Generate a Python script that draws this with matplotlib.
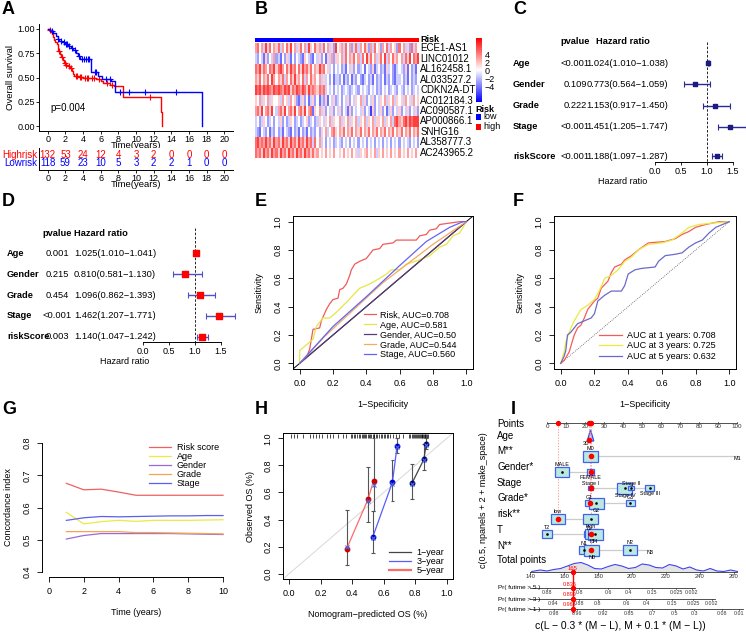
import numpy as np
import matplotlib
matplotlib.use('Agg')
import matplotlib.pyplot as plt
from matplotlib.colors import LinearSegmentedColormap, ListedColormap
from matplotlib.patches import Rectangle
from matplotlib.lines import Line2D

plt.rcParams['font.family'] = ['Liberation Sans', 'DejaVu Sans']
plt.rcParams['axes.linewidth'] = 0.7
plt.rcParams['xtick.major.width'] = 0.6
plt.rcParams['ytick.major.width'] = 0.6

# ── A: Kaplan-Meier ────────────────────────────────────────────────────────
km_high_t = [0, 0.2, 0.35, 0.5, 0.6, 0.7, 0.8, 1.0, 1.1, 1.2, 1.4, 1.5, 1.7, 1.8, 2.0, 2.3, 2.5, 2.7, 2.8, 3.0,
             3.5, 4.0, 4.8, 5.5, 6.0, 6.3, 7.0, 7.5, 8.5, 12.8, 13.0]
km_high_s = [1.0, 0.99, 0.97, 0.95, 0.92, 0.89, 0.87, 0.84, 0.80, 0.77, 0.74, 0.71, 0.68, 0.65, 0.63, 0.62, 0.60,
             0.57, 0.54, 0.52, 0.51, 0.50, 0.49, 0.48, 0.46, 0.44, 0.42, 0.41, 0.30, 0.15, 0.0]
km_low_t = [0, 0.3, 0.6, 0.9, 1.1, 1.3, 1.6, 2.0, 2.3, 2.6, 2.9, 3.2, 3.4, 3.6, 4.9, 5.7, 6.2, 7.2, 7.6, 17.5]
km_low_s = [1.0, 0.98, 0.96, 0.93, 0.90, 0.88, 0.86, 0.84, 0.82, 0.80, 0.78, 0.75, 0.72, 0.69, 0.56, 0.52, 0.48,
            0.46, 0.35, 0.0]
cens_high = [0.3, 1.25, 1.6, 1.9, 2.1, 2.4, 2.6, 3.2, 3.3, 3.6, 3.8, 4.2, 4.4, 4.6, 5.0, 5.2, 5.8, 6.7, 7.3, 11.6]
cens_low = [0.45, 1.2, 1.45, 1.8, 2.1, 2.2, 2.45, 2.75, 3.1, 3.5, 3.9, 4.1, 4.3, 4.5, 4.7, 5.3, 5.5, 6.6, 7.1,
            8.2, 9.2, 11.0, 14.5]
risk_years = list(range(0, 21, 2))
n_high = [132, 53, 24, 12, 4, 3, 2, 0, 0, 0, 0]
n_low = [118, 59, 23, 10, 5, 3, 2, 2, 1, 0, 0]

# ── B: heatmap (digit 4 = 0, each step = 1.5 units) ───────────────────────
genes = ['ECE1-AS1', 'LINC01012', 'AL162458.1', 'AL033527.2', 'CDKN2A-DT', 'AC012184.3',
         'AC090587.1', 'AP000866.1', 'SNHG16', 'AL358777.3', 'AC243965.2']
heat_rows = [
    "6746385746 5736475846 3574638547 5637463528 4563746257 3647526374 5264736452 7463527364",
    "3243152436 2314253142 4321543214 3524153625 5463746574 6374857463 5748364756 4637584768",
    "7685764768 5786475867 4758675746 5867453424 3423143524 2341432513 4231534213 4325142314",
    "6574657486 4657364758 5647364756 4635342413 3241324132 4213423142 3241324213 3423142324",
    "8786878768 7876878576 8768758676 5767343424 3423432343 2434324342 3243423432 4324342343",
    "5463546354 4536453645 2135241352 4132514352 3424352435 4635243524 3546354635 4536453645",
    "6758467584 3675846758 4675846715 4635243524 3524315243 4352430524 3524135243 5243524352",
    "3423542342 4352423542 3423452342 3543546354 4635463546 3546354635 5463546378 6578687888",
    "3214324132 4231432142 3142314232 4254634675 4657465746 5746574657 4657465746 5746574657",
    "7867686758 6758675867 5867586737 4634243423 4324342434 2434243424 3424342434 2434324342",
    "7675867586 7586758675 8675867575 6454645464 4546454645 3545645463 5464546454 6454645464",
]
n_low_cols = 38

# ── C / D: forest plots ────────────────────────────────────────────────────
vars_ = ['Age', 'Gender', 'Grade', 'Stage', 'riskScore']
uni_p = ['<0.001', '0.109', '0.222', '<0.001', '<0.001']
uni_hr = [1.024, 0.773, 1.153, 1.451, 1.188]
uni_lo = [1.010, 0.564, 0.917, 1.205, 1.097]
uni_hi = [1.038, 1.059, 1.450, 1.747, 1.287]
multi_p = ['0.001', '0.215', '0.454', '<0.001', '0.003']
multi_hr = [1.025, 0.810, 1.096, 1.462, 1.140]
multi_lo = [1.010, 0.581, 0.862, 1.207, 1.047]
multi_hi = [1.041, 1.130, 1.393, 1.771, 1.242]

# ── E: ROC of clinical variables ───────────────────────────────────────────
roc_risk_x = [0, 0.04, 0.06, 0.08, 0.12, 0.13, 0.16, 0.18, 0.2, 0.23, 0.24, 0.26, 0.28, 0.30, 0.31, 0.33, 0.36,
              0.38, 0.40, 0.42, 0.44, 0.48, 0.5, 0.56, 0.58, 0.7, 0.72, 0.76, 0.78, 0.82, 0.84, 0.9, 0.96, 1.0]
roc_risk_y = [0, 0.04, 0.10, 0.24, 0.25, 0.30, 0.38, 0.42, 0.45, 0.46, 0.52, 0.53, 0.56, 0.62, 0.66, 0.70, 0.72,
              0.73, 0.74, 0.77, 0.80, 0.81, 0.84, 0.85, 0.87, 0.87, 0.90, 0.91, 0.94, 0.95, 0.98, 0.99, 1.0, 1.0]
roc_age_x = [0, 0, 0.03, 0.08, 0.1, 0.14, 0.18, 0.22, 0.28, 0.32, 0.36, 0.42, 0.48, 0.52, 0.55, 0.6, 0.64, 0.72,
             0.78, 0.84, 0.88, 0.92, 0.96, 1.0]
roc_age_y = [0, 0.09, 0.12, 0.17, 0.26, 0.32, 0.32, 0.36, 0.43, 0.48, 0.53, 0.56, 0.60, 0.63, 0.66, 0.66, 0.70,
             0.73, 0.76, 0.82, 0.84, 0.90, 0.92, 1.0]
roc_gender_x = [0, 0.5, 1.0]
roc_gender_y = [0, 0.5, 1.0]
roc_grade_x = [0, 0.15, 0.5, 0.8, 1.0]
roc_grade_y = [0, 0.19, 0.57, 0.84, 1.0]
roc_stage_x = [0, 0.2, 0.4, 0.6, 0.76, 0.9, 0.98, 1.0]
roc_stage_y = [0, 0.26, 0.47, 0.69, 0.86, 0.96, 1.0, 1.0]

# ── F: time-dependent ROC ──────────────────────────────────────────────────
t1_x = [0, 0.02, 0.05, 0.08, 0.1, 0.12, 0.14, 0.16, 0.2, 0.22, 0.24, 0.28, 0.3, 0.32, 0.36, 0.38, 0.42, 0.46,
        0.52, 0.62, 0.68, 0.72, 0.76, 0.8, 0.86, 0.94, 1.0]
t1_y = [0, 0.02, 0.08, 0.20, 0.25, 0.27, 0.32, 0.38, 0.44, 0.46, 0.53, 0.58, 0.64, 0.68, 0.70, 0.73, 0.76, 0.80,
        0.85, 0.86, 0.88, 0.91, 0.93, 0.96, 0.98, 1.0, 1.0]
t3_x = [0, 0.02, 0.03, 0.06, 0.08, 0.12, 0.16, 0.2, 0.24, 0.26, 0.3, 0.34, 0.38, 0.42, 0.46, 0.52, 0.6, 0.66,
        0.72, 0.76, 0.82, 0.9, 1.0]
t3_y = [0, 0.08, 0.15, 0.25, 0.30, 0.38, 0.41, 0.45, 0.54, 0.60, 0.62, 0.66, 0.72, 0.75, 0.80, 0.84, 0.85, 0.87,
        0.92, 0.96, 0.98, 0.99, 1.0]
t5_x = [0, 0.02, 0.03, 0.04, 0.06, 0.1, 0.14, 0.18, 0.2, 0.22, 0.26, 0.3, 0.36, 0.38, 0.4, 0.44, 0.48, 0.56,
        0.58, 0.62, 0.68, 0.72, 0.76, 0.8, 0.84, 0.88, 0.92, 0.98, 1.0]
t5_y = [0, 0.05, 0.09, 0.20, 0.22, 0.28, 0.30, 0.32, 0.35, 0.44, 0.48, 0.51, 0.51, 0.55, 0.63, 0.66, 0.67, 0.68,
        0.72, 0.76, 0.77, 0.78, 0.82, 0.85, 0.87, 0.92, 0.96, 0.99, 1.0]

# ── G: C-index over time ───────────────────────────────────────────────────
cidx_years = [1, 2, 3, 4, 5, 6, 7, 8, 9, 10]
cidx_risk = [0.675, 0.655, 0.657, 0.648, 0.638, 0.638, 0.638, 0.638, 0.638, 0.638]
cidx_age = [0.585, 0.549, 0.556, 0.560, 0.557, 0.560, 0.560, 0.560, 0.561, 0.562]
cidx_gender = [0.502, 0.513, 0.519, 0.519, 0.519, 0.519, 0.519, 0.518, 0.517, 0.516]
cidx_grade = [0.525, 0.525, 0.525, 0.525, 0.522, 0.522, 0.521, 0.520, 0.519, 0.518]
cidx_stage = [0.560, 0.568, 0.572, 0.571, 0.572, 0.573, 0.574, 0.574, 0.575, 0.575]

# ── H: calibration ─────────────────────────────────────────────────────────
cal1_x = [0.78, 0.855, 0.87]
cal1_y = [0.67, 0.845, 0.96]
cal1_lo = [0.555, 0.765, 0.92]
cal1_hi = [0.81, 0.955, 1.0]
cal3_x = [0.53, 0.655, 0.685]
cal3_y = [0.27, 0.675, 0.945]
cal3_lo = [0.155, 0.54, 0.89]
cal3_hi = [0.465, 0.84, 1.0]
cal5_x = [0.365, 0.50, 0.535]
cal5_y = [0.185, 0.55, 0.685]
cal5_lo = [0.065, 0.38, 0.465]
cal5_hi = [0.47, 0.79, 1.0]
cal_bc1 = [0.665, 0.84, 0.95]
cal_bc3 = [0.265, 0.665, 0.935]
cal_bc5 = [0.20, 0.535, 0.655]
cal_rug = [0.01, 0.03, 0.05, 0.09, 0.13, 0.15, 0.17, 0.19, 0.21, 0.24, 0.26, 0.28, 0.31, 0.34, 0.36, 0.39, 0.40,
           0.41, 0.42, 0.43, 0.44, 0.45, 0.46, 0.47, 0.475, 0.48, 0.49, 0.50, 0.505, 0.51, 0.52, 0.53, 0.535, 0.54,
           0.55, 0.56, 0.57, 0.58, 0.59, 0.60, 0.61, 0.62, 0.63, 0.64, 0.66, 0.68, 0.70, 0.72, 0.76, 0.77, 0.78,
           0.785, 0.79, 0.80, 0.805, 0.81, 0.82, 0.825, 0.83, 0.835, 0.84, 0.845, 0.85, 0.855, 0.86, 0.865, 0.87,
           0.875, 0.88]

# ── I: nomogram ────────────────────────────────────────────────────────────
nomo_rows = ['Points', 'Age', 'M**', 'Gender*', 'Stage', 'Grade*', 'risk**', 'T', 'N**', 'Total points']
# per variable: (label, points, relative size, label above?)
nomo_levels = {
    'M**': [('M0', 22.9, 1.0, True), ('M1', 100.0, 0.0, False)],
    'Gender*': [('MALE', 8.0, 0.9, True), ('FEMALE', 22.9, 0.5, False)],
    'Stage': [('Stage I', 22.9, 0.3, True), ('Stage IV', 41.0, 1.0, False), ('Stage II', 44.2, 0.45, True),
              ('Stage III', 54.0, 0.6, False)],
    'Grade*': [('G1', 22.4, 0.55, True), ('G2', 26.0, 1.0, False), ('G3', 43.7, 0.6, True)],
    'risk**': [('low', 5.8, 0.95, True), ('high', 22.9, 0.95, False)],
    'T': [('T2', 0.0, 0.7, True), ('T1', 22.0, 0.6, True), ('T3', 23.5, 0.9, False), ('T4', 25.5, 1.0, False)],
    'N**': [('N1', 19.5, 0.7, True), ('N0', 23.5, 1.0, False), ('N2', 43.7, 0.9, True), ('N3', 54.0, 0.0, False)],
}
sel_points = {'Age': 21.9, 'M**': 22.9, 'Gender*': 22.9, 'Stage': 22.9, 'Grade*': 22.4, 'risk**': 5.8,
              'T': 22.9, 'N**': 22.9}
sel_total = 165
total_ticks = [140, 160, 180, 200, 220, 240, 260]
dens_T = [141, 146, 150, 154, 158, 162, 166, 170, 174, 178, 182, 186, 190, 194, 198, 202, 206, 210, 214, 218,
          222, 226, 230, 234, 238, 242, 246, 250, 254, 258, 262]
dens_h = [0.05, 0.2, 0.1, 0.25, 0.35, 0.6, 0.85, 0.95, 0.7, 0.35, 0.3, 0.55, 0.75, 0.6, 0.35, 0.45, 0.8, 0.7,
          0.45, 0.4, 0.75, 0.6, 0.3, 0.5, 0.2, 0.1, 0.35, 0.1, 0.05, 0.2, 0.05]
pr_names = ['Pr( futime > 5 )', 'Pr( futime > 3 )', 'Pr( futime > 1 )']
pr_sel = ['0.836', '0.899', '0.966']
pr_labels = [['0.88', '0.8', '0.6', '0.4', '0.15', '0.025', '0.002'],
             ['0.94', '0.88', '0.8', '0.6', '0.4', '0.15', '0.025', '0.002'],
             ['0.98', '0.96', '0.92', '0.85', '0.7', '0.5', '0.3', '0.08', '0.01']]
pr_at = [[150, 169, 186, 198, 212, 226, 235],
         [153.5, 168.8, 180, 196.5, 208.2, 223.5, 235.9, 247],
         [154, 167.6, 183, 198, 212, 225, 236.5, 253, 263]]
pr_end = [237, 249, 265]

# ══════════════════════════════════════════════════════════════════════════
W, H = 746, 633
fig = plt.figure(figsize=(W / 100, H / 100), dpi=100, facecolor='white')


def px_axes(x0, y0, x1, y1):
    return fig.add_axes([x0 / W, 1 - y1 / H, (x1 - x0) / W, (y1 - y0) / H])


for letter, (lx, ly) in {'A': (2, 9), 'B': (255, 9), 'C': (513, 9), 'D': (2, 202), 'E': (255, 202),
                         'F': (513, 202), 'G': (2, 410), 'H': (255, 410), 'I': (511, 410)}.items():
    fig.text(lx / W, 1 - ly / H, letter, fontsize=13, fontweight='bold', ha='left', va='center')

# ── A ──
axA = px_axes(39, 24, 233, 131)
for t, s, c, col in [(km_high_t, km_high_s, cens_high, 'red'), (km_low_t, km_low_s, cens_low, 'blue')]:
    axA.step(t, s, where='post', color=col, lw=1.0)
    idx = np.searchsorted(t, c, side='right') - 1
    axA.plot(c, np.array(s)[idx], ls='none', marker='+', ms=4, mew=0.8, color=col)
axA.text(0.3, 0.19, 'p=0.004', fontsize=7, ha='left', va='center')
axA.set_xlim(-1, 21)
axA.set_ylim(-0.05, 1.05)
axA.set_xticks(risk_years)
axA.set_yticks([0, 0.25, 0.5, 0.75, 1.0])
axA.set_yticklabels(['0.00', '0.25', '0.50', '0.75', '1.00'])
axA.tick_params(labelsize=6.5, length=2.5, pad=0.5)
axA.set_xlabel('Time(years)', fontsize=6.8, labelpad=-2)
axA.set_ylabel('Overall survival', fontsize=6.8, labelpad=2)
axA.spines[['top', 'right']].set_visible(False)

axAt = px_axes(39, 148, 233, 170)
axAt.set_xlim(-1, 21)
axAt.set_ylim(0, 2)
for t, a, b in zip(risk_years, n_high, n_low):
    axAt.text(t, 1.4, str(a), color='red', fontsize=7, ha='center', va='center')
    axAt.text(t, 0.6, str(b), color='blue', fontsize=7, ha='center', va='center')
axAt.text(-0.01, 1.4, 'Highrisk', color='red', fontsize=7, ha='right', va='center',
          transform=axAt.get_yaxis_transform())
axAt.text(-0.01, 0.6, 'Lowrisk', color='blue', fontsize=7, ha='right', va='center',
          transform=axAt.get_yaxis_transform())
axAt.set_xticks(risk_years)
axAt.set_yticks([])
axAt.tick_params(labelsize=6.5, length=2.5, pad=0.5)
axAt.set_xlabel('Time(years)', fontsize=6.8, labelpad=-2)
axAt.spines[['top', 'right']].set_visible(False)

# ── B ──
mat = np.array([[int(ch) - 4 for ch in r.replace(' ', '')] for r in heat_rows]) * 1.5
bwr = LinearSegmentedColormap.from_list('bwr_r', ['#0000FF', '#FFFFFF', '#FF0000'])
axB = px_axes(255, 43, 418, 158)
axB.imshow(mat, aspect='auto', cmap=bwr, vmin=-8, vmax=8, interpolation='nearest')
axB.set_xticks([])
axB.set_yticks([])
for sp in axB.spines.values():
    sp.set_visible(False)
for i, g in enumerate(genes):
    axB.text(1.015, 1 - (i + 0.5) / len(genes), g, transform=axB.transAxes, fontsize=7, va='center', ha='left')

axBr = px_axes(255, 37.5, 418, 42)
ncol = mat.shape[1]
grp = np.array([[0] * n_low_cols + [1] * (ncol - n_low_cols)])
axBr.imshow(grp, aspect='auto', cmap=ListedColormap(['#0000FF', '#FF0000']), interpolation='nearest')
axBr.axis('off')
axBr.text(1.015, 0.5, 'Risk', transform=axBr.transAxes, fontsize=6.5, fontweight='bold', va='center', ha='left')

axCB = px_axes(476, 38, 482, 102)
grad = np.linspace(8, -8, 200)[:, None]
axCB.imshow(grad, aspect='auto', cmap=bwr, vmin=-8, vmax=8, extent=[0, 1, -8, 8])
axCB.set_xticks([])
axCB.yaxis.tick_right()
axCB.set_yticks([4, 2, 0, -2, -4])
axCB.set_yticklabels(['4', '2', '0', '\u22122', '\u22124'])
axCB.tick_params(axis='y', length=0, pad=2, labelsize=6.5)
for sp in axCB.spines.values():
    sp.set_visible(False)

fig.text(475 / W, 1 - 109 / H, 'Risk', fontsize=6.5, fontweight='bold', va='center', ha='left')
for yy, col, lab in [(116.5, '#0000FF', 'low'), (126.5, '#FF0000', 'high')]:
    fig.patches.append(Rectangle((476 / W, 1 - (yy + 3) / H), 5 / W, 5 / H, transform=fig.transFigure,
                                 facecolor=col, edgecolor='none'))
    fig.text(483 / W, 1 - yy / H, lab, fontsize=6.5, va='center', ha='left')


# ── C / D forest plots ──
def forest_axis(ax):
    for sp in ['top', 'right', 'left']:
        ax.spines[sp].set_visible(False)
    ax.spines['bottom'].set_bounds(0, 1.5)
    ax.set_yticks([])
    ax.set_xticks([0, 0.5, 1.0, 1.5])
    ax.set_xticklabels(['0.0', '0.5', '1.0', '1.5'])
    ax.tick_params(axis='x', labelsize=6.5, length=2.5, pad=1)
    ax.set_xlabel('Hazard ratio', fontsize=6.5, labelpad=1)


axC = px_axes(500, 30, 746, 162)
axC.set_xlim((500 - 655) / 52, (746 - 655) / 52)
axC.set_ylim(4.65, -1.55)
rowsC = [0, 1, 2, 3, 4.37]
axC.plot([1, 1], [-1.0, 4.65], color='black', lw=0.6, ls=(0, (3, 2)))
hr = np.array(uni_hr)
axC.errorbar(hr, rowsC, xerr=[hr - np.array(uni_lo), np.array(uni_hi) - hr], fmt='none', ecolor='#2B2B95',
             elinewidth=1.0, capsize=2, capthick=0.8)
axC.scatter(hr, rowsC, marker='s', s=12, color='#1C1C80', zorder=3)
for y, v, p, h, lo, hi in zip(rowsC, vars_, uni_p, uni_hr, uni_lo, uni_hi):
    axC.text(-2.73, y, v, fontsize=6.7, fontweight='bold', ha='left', va='center')
    axC.text(-1.54, y, p, fontsize=6.7, ha='center', va='center')
    axC.text(-0.54, y, f'{h:.3f}({lo:.3f}\u2212{hi:.3f})', fontsize=6.7, ha='center', va='center')
axC.text(-1.54, -0.99, 'pvalue', fontsize=6.7, fontweight='bold', ha='center', va='center')
axC.text(-0.615, -0.99, 'Hazard ratio', fontsize=6.7, fontweight='bold', ha='center', va='center')
forest_axis(axC)

axD = px_axes(0, 222, 250, 342)
axD.set_xlim(-143 / 52, 107 / 52)
axD.set_ylim(4.24, -1.48)
rowsD = [0, 1, 2, 3, 4]
axD.plot([1, 1], [-1.19, 4.24], color='black', lw=0.6, ls=(0, (3, 2)))
hr = np.array(multi_hr)
axD.errorbar(hr, rowsD, xerr=[hr - np.array(multi_lo), np.array(multi_hi) - hr], fmt='none', ecolor='#5050C8',
             elinewidth=1.0, capsize=2, capthick=0.8)
axD.scatter(hr, rowsD, marker='s', s=14, color='#FF0000', zorder=3)
for y, v, p, h, lo, hi in zip(rowsD, vars_, multi_p, multi_hr, multi_lo, multi_hi):
    axD.text(-2.615, y, v, fontsize=6.7, fontweight='bold', ha='left', va='center')
    axD.text(-1.654, y, p, fontsize=6.7, ha='center', va='center')
    axD.text(-1.327, y, f'{h:.3f}({lo:.3f}\u2212{hi:.3f})', fontsize=6.7, ha='left', va='center')
axD.text(-1.654, -0.95, 'pvalue', fontsize=6.7, fontweight='bold', ha='center', va='center')
axD.text(-1.327, -0.95, 'Hazard ratio', fontsize=6.7, fontweight='bold', ha='left', va='center')
forest_axis(axD)


# ── R-style axes helper ──
def r_style(ax, ticks, labels, box=True):
    ax.set_xticks(ticks[0])
    ax.set_xticklabels(labels[0])
    ax.set_yticks(ticks[1])
    ax.set_yticklabels(labels[1], rotation=90, va='center')
    ax.tick_params(labelsize=6.5, length=3.5, pad=4)
    if not box:
        ax.spines[['top', 'right']].set_visible(False)


unit_ticks = [0, 0.2, 0.4, 0.6, 0.8, 1.0]
unit_labels = ['0.0', '0.2', '0.4', '0.6', '0.8', '1.0']

# ── E ──
axE = px_axes(293, 216, 473, 369)
axE.plot([-0.1, 1.1], [-0.1, 1.1], color='black', lw=0.7)
e_series = [(roc_risk_x, roc_risk_y, '#F05A5A', 'Risk, AUC=0.708'),
            (roc_age_x, roc_age_y, '#E6E645', 'Age, AUC=0.581'),
            (roc_gender_x, roc_gender_y, '#5A3C78', 'Gender, AUC=0.50'),
            (roc_grade_x, roc_grade_y, '#F5AA5F', 'Grade, AUC=0.544'),
            (roc_stage_x, roc_stage_y, '#6464F5', 'Stage, AUC=0.560')]
for x, y, c, lab in e_series:
    axE.plot(x, y, color=c, lw=0.9, label=lab)
axE.set_xlim(-0.04, 1.04)
axE.set_ylim(-0.04, 1.04)
r_style(axE, [unit_ticks, unit_ticks], [unit_labels, unit_labels])
axE.set_xlabel('1\u2212Specificity', fontsize=6.5, labelpad=8)
axE.set_ylabel('Sensitivity', fontsize=6.5, labelpad=7)
axE.legend(loc='lower right', bbox_to_anchor=(0.93, 0.04), frameon=False, fontsize=6.5, handlelength=1.3,
           handletextpad=0.5, labelspacing=0.1, borderaxespad=0)

# ── F ──
axF = px_axes(554, 216, 736, 369)
axF.plot([0, 1], [0, 1], color='#555555', lw=0.6, ls=(0, (1, 1.5)))
for x, y, c, lab in [(t1_x, t1_y, '#F55A5A', 'AUC at 1 years: 0.708'),
                     (t3_x, t3_y, '#EAEA3C', 'AUC at 3 years: 0.725'),
                     (t5_x, t5_y, '#6A6AC8', 'AUC at 5 years: 0.632')]:
    axF.plot(x, y, color=c, lw=0.9, label=lab)
axF.set_xlim(-0.04, 1.04)
axF.set_ylim(-0.04, 1.04)
r_style(axF, [unit_ticks, unit_ticks], [unit_labels, unit_labels])
axF.set_xlabel('1\u2212Specificity', fontsize=6.5, labelpad=8)
axF.set_ylabel('Sensitivity', fontsize=6.5, labelpad=7)
axF.legend(loc='lower right', bbox_to_anchor=(0.91, 0.03), frameon=False, fontsize=6.5, handlelength=2.5,
           handletextpad=0.6, labelspacing=0.15, borderaxespad=0)

# ── G ──
axG = px_axes(42, 438, 230, 577)
for y, c, lab in [(cidx_risk, '#F06060', 'Risk score'), (cidx_age, '#EBEB40', 'Age'),
                  (cidx_gender, '#9A6AD8', 'Gender'), (cidx_grade, '#F5A550', 'Grade'),
                  (cidx_stage, '#5D5DF5', 'Stage')]:
    axG.plot(cidx_years, y, color=c, lw=0.9, label=lab)
axG.set_xlim(-0.4, 10.4)
axG.set_ylim(0.384, 0.816)
r_style(axG, [[0, 2, 4, 6, 8, 10], [0.4, 0.5, 0.6, 0.7, 0.8]],
        [['0', '2', '4', '6', '8', '10'], ['0.4', '0.5', '0.6', '0.7', '0.8']], box=False)
axG.spines['left'].set_bounds(0.4, 0.8)
axG.spines['bottom'].set_bounds(0, 10)
axG.set_xlabel('Time (years)', fontsize=6.5, labelpad=8)
axG.set_ylabel('Concordance index', fontsize=6.5, labelpad=7)
axG.legend(loc='upper right', bbox_to_anchor=(0.96, 0.99), frameon=False, fontsize=6.5, handlelength=2.5,
           handletextpad=0.6, labelspacing=0.0, borderaxespad=0)

# ── H ──
axH = px_axes(283, 433, 453, 579)
axH.plot([-0.1, 1.1], [-0.1, 1.1], color='#D8D8D8', lw=0.7)
axH.vlines(cal_rug, 1.003, 1.035, color='black', lw=0.5)
for x, y, lo, hi, bc, lc, pc in [(cal1_x, cal1_y, cal1_lo, cal1_hi, cal_bc1, '#444444', '#000070'),
                                 (cal3_x, cal3_y, cal3_lo, cal3_hi, cal_bc3, '#5A5AFF', '#0000CC'),
                                 (cal5_x, cal5_y, cal5_lo, cal5_hi, cal_bc5, '#FF6A6A', '#CC0000')]:
    axH.vlines(x, lo, hi, color='#555555', lw=0.8)
    axH.hlines(lo, np.array(x) - 0.012, np.array(x) + 0.012, color='#555555', lw=0.8)
    axH.hlines(hi, np.array(x) - 0.012, np.array(x) + 0.012, color='#555555', lw=0.8)
    axH.plot(x, y, color=lc, lw=0.9)
    axH.plot(x, y, ls='none', marker='o', ms=3.2, color=pc)
    axH.plot(x, bc, ls='none', marker='x', ms=3.2, mew=0.8, color='#4A6AE8')
axH.set_xlim(-0.04, 1.04)
axH.set_ylim(-0.04, 1.04)
r_style(axH, [unit_ticks, unit_ticks], [unit_labels, unit_labels])
axH.set_xlabel('Nomogram\u2212predicted OS (%)', fontsize=6.5, labelpad=8)
axH.set_ylabel('Observed OS (%)', fontsize=6.5, labelpad=6)
axH.legend(handles=[Line2D([], [], color='#444444', lw=0.9), Line2D([], [], color='#5A5AFF', lw=0.9),
                    Line2D([], [], color='#FF6A6A', lw=1.6)],
           labels=['1\u2212year', '3\u2212year', '5\u2212year'], loc='lower right', bbox_to_anchor=(0.97, 0.0),
           frameon=False, fontsize=6.5, handlelength=2.5, handletextpad=0.6, labelspacing=0.0, borderaxespad=0)

# ── I: nomogram ──
PX0, PPP = 547, 1.9          # x pixel of 0 points, pixels per point


def tot_x(T):
    return (598 + (np.asarray(T, dtype=float) - 180) * 1.7 - PX0) / PPP


axI = px_axes(496, 415, 746, 633)
axI.set_xlim((496 - PX0) / PPP, (746 - PX0) / PPP)
axI.set_ylim(633, 415)
axI.axis('off')
xl = (497 - PX0) / PPP
row_y = {'Points': 423, 'Age': 437, 'M**': 456, 'Gender*': 472, 'Stage': 488, 'Grade*': 503, 'risk**': 519,
         'T': 534, 'N**': 550}
lab_y = {'Points': 424, 'Age': 436, 'M**': 451, 'Gender*': 467, 'Stage': 483, 'Grade*': 498, 'risk**': 514,
         'T': 530, 'N**': 546, 'Total points': 560}
for name in nomo_rows:
    axI.text(xl, lab_y[name], name, fontsize=7, ha='left', va='center')

# points axis
y0 = row_y['Points']
axI.plot([0, 100], [y0, y0], color='#333333', lw=0.6)
for v in range(0, 101, 10):
    axI.plot([v, v], [y0, y0 - 1.5], color='#333333', lw=0.5)
    axI.text(v, y0 + 0.8, str(v), fontsize=4.5, ha='center', va='top', color='#333333')

# selected-patient guides
for p in sorted(set(sel_points.values())):
    ymax = max(row_y[k] for k, v in sel_points.items() if v == p)
    axI.plot([p, p], [y0, ymax], color='#FF8080', lw=0.5, ls=(0, (2, 2)))
    axI.plot(p, y0, 'o', ms=2.8, color='red', zorder=5)

# age distribution (narrow)
ya = row_y['Age']
axI.fill([21.2, 22.9, 24.6], [ya + 4, ya - 7, ya + 4], facecolor='#C8D8F8', edgecolor='#3050F0', lw=1.0)
axI.text(20.3, ya + 6.5, '30', fontsize=4.2, ha='center', va='center')
axI.plot(sel_points['Age'], ya + 3, 'o', ms=3, color='red', zorder=5)

for var, levels in nomo_levels.items():
    y = row_y[var]
    pts = [lv[1] for lv in levels]
    axI.plot([min(pts), max(pts)], [y, y], color='#CCCCCC', lw=0.9, zorder=1)
    for lab, p, sz, above in levels:
        w, h = 15 * sz / PPP, 11 * sz
        if sz > 0:
            axI.add_patch(Rectangle((p - w / 2, y - h / 2), w, h, facecolor='#B8E8E0', edgecolor='#4060F0',
                                    lw=0.9, zorder=2))
            axI.plot(p, y, 's', ms=0.8, color='black', zorder=3)
        off = h / 2 + 2.4
        axI.text(p, y - off if above else y + off, lab, fontsize=3.9, ha='center', va='center', zorder=4)
    axI.plot(sel_points[var], y, 'o', ms=3, color='red', zorder=5)

# total points
yt = 572
dx = tot_x(dens_T)
dh = np.array(dens_h) * 10
axI.fill_between(dx, yt, yt - dh, color='#E4E4E4', lw=0)
axI.plot(dx, yt - dh, color='#4040F0', lw=0.8)
axI.plot([tot_x(140), tot_x(262)], [yt, yt], color='#333333', lw=0.6)
for v in total_ticks:
    axI.plot([tot_x(v)] * 2, [yt, yt + 1.5], color='#333333', lw=0.5)
    axI.text(tot_x(v), yt + 2.2, str(v), fontsize=4.2, ha='center', va='top', color='#333333')
xs = tot_x(sel_total)
axI.text(xs, yt - 3.5, str(sel_total), fontsize=4.2, color='red', ha='center', va='center')

pr_y = [588, 599, 609]
for name, sel, labs, at, end, y in zip(pr_names, pr_sel, pr_labels, pr_at, pr_end, pr_y):
    axI.text((540 - PX0) / PPP, y, name, fontsize=4.6, ha='right', va='center')
    axI.plot([tot_x(140), tot_x(end)], [y, y], color='#333333', lw=0.6)
    for lab, t in zip(labs, at):
        axI.plot([tot_x(t)] * 2, [y, y + 1.2], color='#333333', lw=0.5)
        axI.text(tot_x(t), y + 1.8, lab, fontsize=3.8, ha='center', va='top', color='#333333')
    axI.text(xs - 1.5, y - 4.0, sel, fontsize=4.0, color='red', ha='center', va='center')
    axI.plot(xs, y, 'o', ms=2.8, color='red', zorder=5)
axI.plot([xs, xs], [yt - 2, pr_y[-1] + 3], color='red', lw=1.0)
axI.plot(xs, yt, 'o', ms=2.8, color='red', zorder=5)
axI.text((620 - PX0) / PPP, 626, 'c(L \u2212 0.3 * (M \u2212 L), M + 0.1 * (M \u2212 L))', fontsize=7.5,
         ha='center', va='center')
fig.text(483 / W, 1 - 500 / H, 'c(0.5, npanels + 2 + make_space)', rotation=90, fontsize=6.5,
         ha='center', va='center')

fig.savefig('out.png', dpi=100, facecolor='white')
